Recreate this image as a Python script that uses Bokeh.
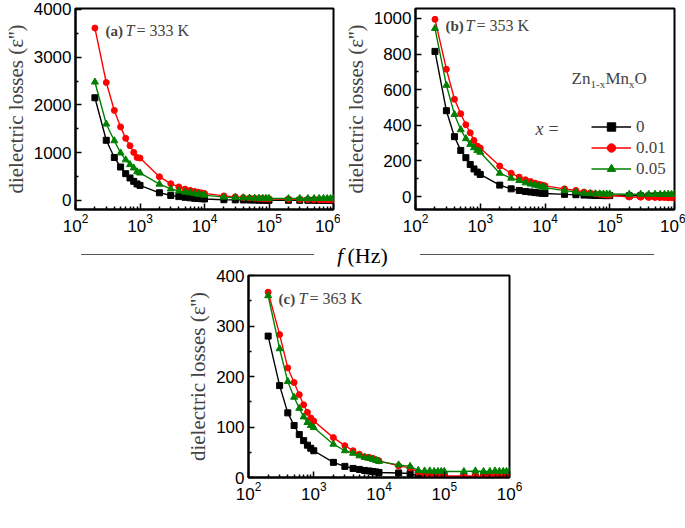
from bokeh.plotting import figure
from bokeh.models import (FixedTicker, Label, Legend, LegendItem, Div, Spacer)
from bokeh.layouts import column, row
from bokeh.embed import file_html
from bokeh.resources import INLINE

# ---------------- data ----------------
freq = [200, 300, 400, 500, 600, 700, 800, 900,
        1000, 2000, 3000, 4000, 5000, 6000, 7000, 8000, 9000,
        10000, 20000, 30000, 40000, 50000, 60000, 70000, 80000, 90000,
        100000, 200000, 300000, 400000, 500000, 600000, 700000, 800000, 900000,
        1000000]

# (a) T = 333 K
a_x0 = [2150, 1260, 900, 700, 560, 470, 400, 345,
        315, 160, 105, 80, 65, 55, 45, 40, 35,
        30, 15, 12, 10, 8, 7, 6, 5, 5,
        4, 3, 3, 2, 2, 2, 2, 2, 2, 2]
a_x001 = [3610, 2470, 1885, 1540, 1300, 1145, 1005, 900,
          888, 495, 350, 283, 237, 210, 189, 172, 158,
          147, 95, 75, 60, 50, 45, 40, 38, 35,
          33, 25, 22, 20, 18, 16, 15, 14, 13, 12]
a_x005 = [2480, 1600, 1250, 995, 850, 750, 680, 600,
          575, 340, 240, 200, 175, 160, 145, 130, 120,
          110, 70, 60, 55, 50, 48, 46, 45, 44,
          43, 40, 41, 40, 39, 40, 41, 40, 40, 40]

# (b) T = 353 K
b_x0 = [815, 482, 336, 259, 218, 180, 155, 137,
        124, 64, 43, 34, 28, 25, 22, 20, 18,
        17, 12, 10, 8, 7, 6, 6, 5, 5,
        5, 4, 4, 3, 3, 3, 3, 3, 3, 3]
b_x001 = [995, 715, 546, 465, 403, 358, 315, 283,
          272, 171, 131, 109, 94, 84, 75, 69, 65,
          60, 43, 34, 25, 20, 15, 12, 10, 8,
          7, -3, -4, -5, -5, -6, -6, -7, -7, -7]
b_x005 = [944, 625, 461, 375, 325, 293, 274, 259,
          249, 131, 103, 90, 77, 70, 64, 59, 55,
          50, 33, 25, 18, 16, 15, 15, 14, 14,
          14, 13, 13, 12, 13, 12, 12, 13, 12, 12]

# (c) T = 363 K
c_x0 = [280, 182, 128, 103, 85, 73, 64, 58,
        53, 30, 22, 18, 16, 14, 13, 12, 11,
        10, 9, 8, 3, 2, 2, 1, 1, 1,
        1, 1, 1, 0, 0, 0, 0, 0, 0, 0]
c_x001 = [367, 283, 217, 188, 164, 144, 129, 118,
          112, 79, 63, 53, 46, 41, 40, 38, 35,
          33, 23, 19, 10, 6, 5, 4, 4, 3,
          3, 3, 3, 2, 2, 2, 2, 2, 2, 2]
c_x005 = [360, 255, 190, 159, 137, 120, 109, 103,
          99, 66, 53, 48, 43, 40, 38, 36, 34,
          32, 25, 22, 14, 13, 13, 12, 12, 12,
          12, 12, 13, 12, 12, 13, 12, 12, 12, 12]

x_labels = ["0", "0.01", "0.05"]
colors = ["#000000", "#ff0000", "#008000"]
markers = ["square", "circle", "triangle"]
marker_sizes = [6, 6, 7]

major_x = [100, 1000, 10000, 100000, 1000000]
minor_x = [m * d for d in [100, 1000, 10000, 100000] for m in range(2, 10)]

SERIF = "Liberation Serif"
SANS = "Liberation Sans"


def make_panel(width, height, borders, y_range, y_major, y_minor, series, tag, temp,
               frame_h, title_dy):
    bl, br, bt, bb = borders
    p = figure(width=width, height=height, x_axis_type="log",
               x_range=(100, 1e6), y_range=y_range,
               output_backend="svg", toolbar_location=None,
               min_border_left=bl, min_border_right=br,
               min_border_top=bt, min_border_bottom=bb)
    p.grid.visible = False
    p.outline_line_color = "black"
    p.outline_line_width = 2
    p.background_fill_color = "white"
    p.border_fill_color = "white"

    p.xaxis.ticker = FixedTicker(ticks=major_x, minor_ticks=minor_x)
    p.yaxis.ticker = FixedTicker(ticks=y_major, minor_ticks=y_minor)
    for ax in (p.xaxis[0], p.yaxis[0]):
        ax.axis_line_width = 2
        ax.axis_line_color = "black"
        ax.major_tick_in = 6
        ax.major_tick_out = 0
        ax.minor_tick_in = 3
        ax.minor_tick_out = 0
        ax.major_tick_line_width = 1.5
        ax.minor_tick_line_width = 1.5
        ax.major_label_text_font = SANS
        ax.major_label_text_font_size = "17px"
        ax.major_label_text_color = "black"
        ax.major_label_standoff = 4
    p.yaxis.axis_label = "dielectric losses (\u03b5'')"
    p.yaxis.axis_label_text_font = SERIF
    p.yaxis.axis_label_text_font_style = "normal"
    p.yaxis.axis_label_text_font_size = "21px"
    p.yaxis.axis_label_standoff = 3

    rends = []
    for (vals, col, mk, ms) in zip(series, colors, markers, marker_sizes):
        ln = p.line(freq, vals, line_color=col, line_width=1.4)
        sc = p.scatter(freq, vals, marker=mk, size=ms, fill_color=col, line_color=col)
        rends.append((ln, sc))

    ty = frame_h - title_dy
    p.add_layout(Label(x=30, y=ty, x_units="screen", y_units="screen", text=tag,
                       text_font=SERIF, text_font_style="bold", text_font_size="15px",
                       text_baseline="middle"))
    p.add_layout(Label(x=50, y=ty, x_units="screen", y_units="screen", text="T",
                       text_font=SERIF, text_font_style="italic", text_font_size="16px",
                       text_baseline="middle"))
    p.add_layout(Label(x=61, y=ty, x_units="screen", y_units="screen", text="= " + temp,
                       text_font=SERIF, text_font_size="16px", text_baseline="middle"))
    return p, rends


pa, ra = make_panel(340, 240, (71, 7, 8, 31), (-190, 4020),
                    [0, 1000, 2000, 3000, 4000], [500, 1500, 2500, 3500],
                    [a_x0, a_x001, a_x005], "(a)", "333 K", 201, 22)
pb, rb = make_panel(345, 240, (72, 11, 8, 31), (-73, 1056),
                    [0, 200, 400, 600, 800, 1000], [100, 300, 500, 700, 900],
                    [b_x0, b_x001, b_x005], "(b)", "353 K", 201, 17)
pc, rc = make_panel(359, 261, (78, 20, 9, 50), (0, 400),
                    [0, 100, 200, 300, 400], [50, 150, 250, 350],
                    [c_x0, c_x001, c_x005], "(c)", "363 K", 202, 23)

# legend in panel (b)
items = [LegendItem(label=lab, renderers=[ln, sc]) for lab, (ln, sc) in zip(x_labels, rb)]
leg = Legend(items=items, location=(176, 30), orientation="vertical",
             glyph_width=40, glyph_height=21, label_height=21, label_standoff=5,
             spacing=0, padding=0, margin=0, border_line_color=None,
             background_fill_alpha=0, label_text_font=SERIF, label_text_font_size="17px")
pb.add_layout(leg)

# composition label Zn1-xMnxO
base_y = 131
sub_y = 126
for txt, xx, yy, fs in [("Zn", 156, base_y, "17px"), ("1-x", 175, sub_y, "11px"),
                        ("Mn", 190, base_y, "17px"), ("x", 213.5, sub_y, "11px"),
                        ("O", 219, base_y, "17px")]:
    pb.add_layout(Label(x=xx, y=yy, x_units="screen", y_units="screen", text=txt,
                        text_font=SERIF, text_font_size=fs, text_baseline="alphabetic"))
pb.add_layout(Label(x=120, y=81, x_units="screen", y_units="screen", text="x",
                    text_font=SERIF, text_font_style="italic", text_font_size="18px",
                    text_baseline="middle"))
pb.add_layout(Label(x=133, y=81, x_units="screen", y_units="screen", text="=",
                    text_font=SERIF, text_font_size="18px", text_baseline="middle"))

# x-axis label for panel (c)
pc.add_layout(Label(x=95, y=-31, x_units="screen", y_units="screen", text="f",
                    text_font=SERIF, text_font_style="italic", text_font_size="22px",
                    text_baseline="middle"))
pc.add_layout(Label(x=107, y=-31, x_units="screen", y_units="screen", text="(Hz)",
                    text_font=SERIF, text_font_size="22px", text_baseline="middle"))

mid = Div(text=(
    '<div style="position:relative;width:685px;height:26px;'
    'font-family:\'Liberation Serif\';font-size:22px;color:black;">'
    '<div style="position:absolute;left:81px;top:14px;width:233px;border-top:1px solid #555;"></div>'
    '<span style="position:absolute;left:337px;top:0px;white-space:nowrap;"><i>f</i>&thinsp;(Hz)</span>'
    '<div style="position:absolute;left:420px;top:14px;width:234px;border-top:1px solid #555;"></div>'
    '</div>'), width=685, height=26, margin=0)

layout = column(row(pa, pb, spacing=0), mid, row(Spacer(width=170, height=261), pc, spacing=0),
                spacing=0)

open("out.html", "w").write(file_html(layout, INLINE))
